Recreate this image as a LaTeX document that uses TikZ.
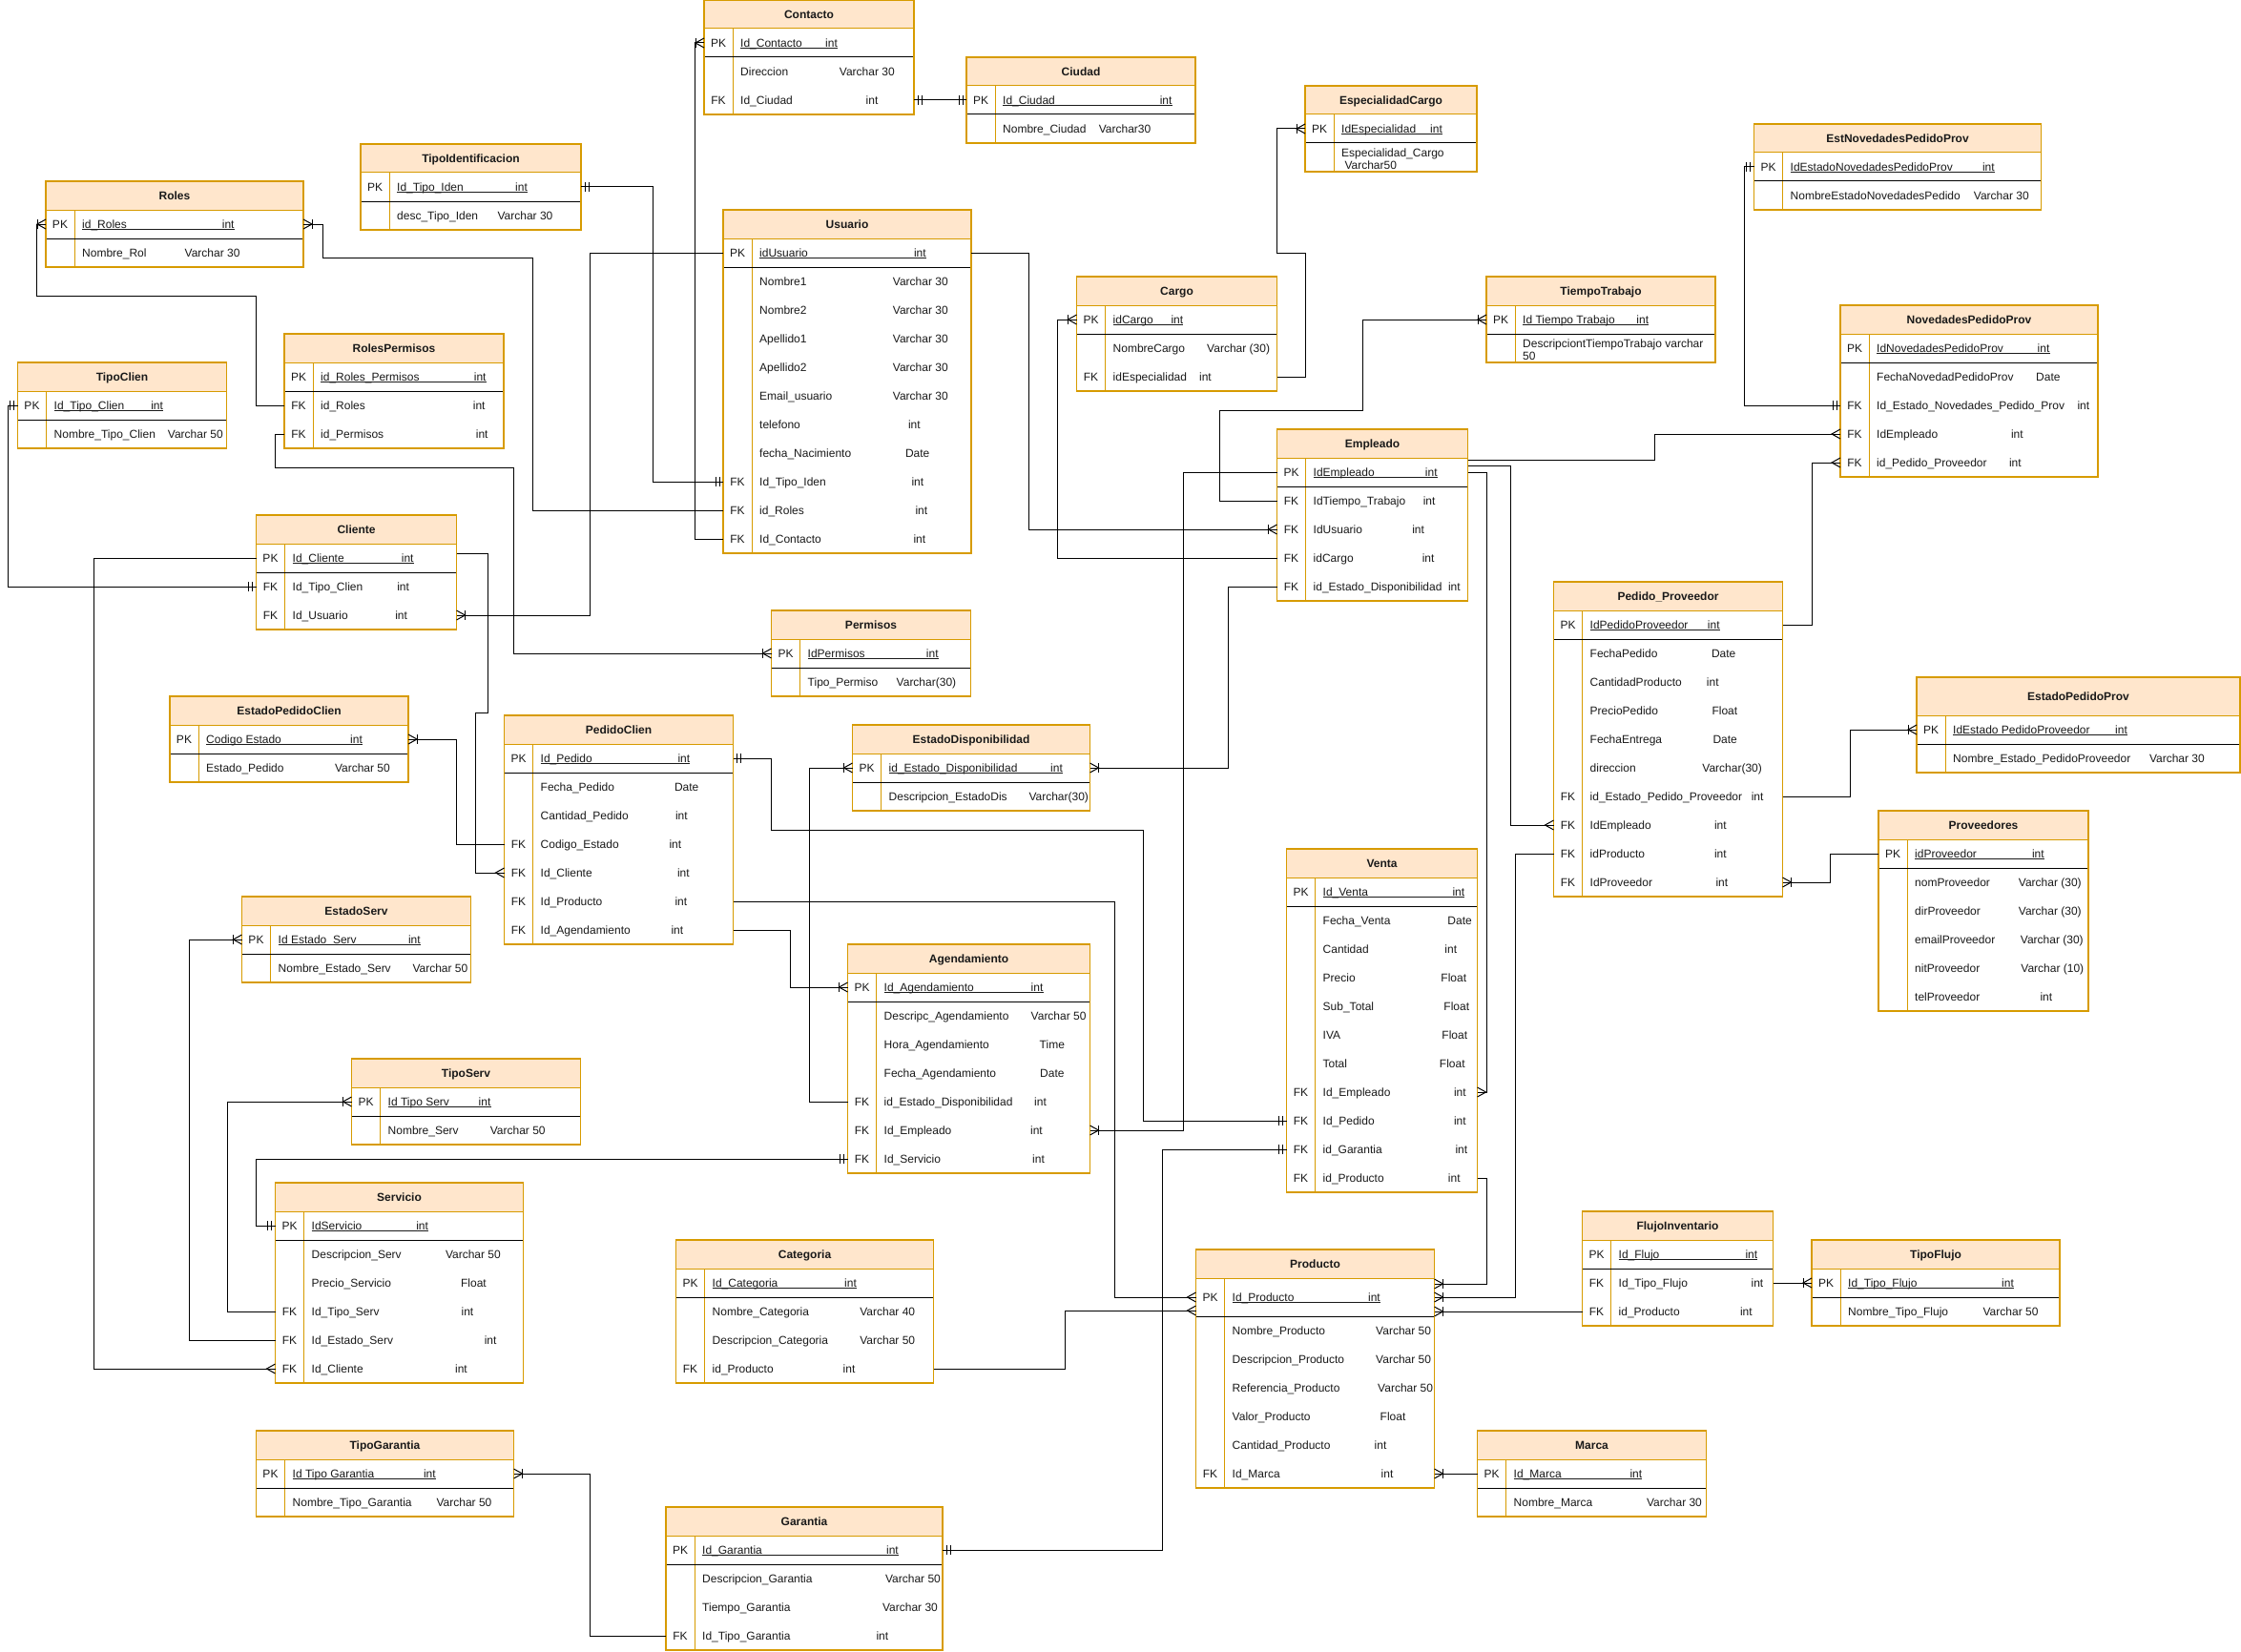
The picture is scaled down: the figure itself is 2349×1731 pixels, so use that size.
\documentclass[tikz,border=0pt]{standalone}
\usepackage{fontspec}
\setmainfont{Liberation Sans}
\definecolor{hdr}{HTML}{FFE6CC}
\definecolor{tabedge}{HTML}{D79B00}
\definecolor{txt}{HTML}{1A1A1A}
\newcommand\erfont{\fontsize{12}{14}\selectfont}

\tikzset{
  conn/.style={draw=black, line width=1pt},
  edgeline/.style={draw=tabedge, line width=1pt},
  pkline/.style={draw=black, line width=1pt},
  tabframe/.style={rectangle, draw=tabedge, line width=1.1pt, inner sep=0pt, outer sep=0pt},
  rowbox/.style={rectangle, inner sep=0pt, outer sep=0pt, minimum height=30pt},
  keytxt/.style={anchor=base, inner sep=0pt, font=\erfont, text=txt},
  fldtxt/.style={anchor=base west, inner sep=0pt, font=\erfont, text=txt},
  titletxt/.style={anchor=base, inner sep=0pt, font=\erfont\bfseries, text=txt},
  uline/.style={draw=txt, line width=0.9pt},
  % crow's foot markers, drawn for a line leaving the table towards +x
  erMany/.pic={\draw[conn] (0,-5) -- (9,0) -- (0,5);},
  erOtm/.pic={\draw[conn] (0,-5) -- (9,0) -- (0,5); \draw[conn] (9,-5) -- (9,5);},
  erOne/.pic={\draw[conn] (4,-5) -- (4,5) (8,-5) -- (8,5);},
}

% table frame: name, x, y, width, header height, key row height, total height, title
\newcommand\ertab[8]{%
  \fill[hdr] (#2,#3) rectangle ++(#4,#5);
  \draw[edgeline] (#2,#3+#5) -- ++(#4,0);
  \draw[edgeline] (#2+30,#3+#5) -- (#2+30,#3+#7);
  \draw[pkline] (#2,#3+#5+#6) -- ++(#4,0);
  \node[tabframe, minimum width=#4pt, minimum height=#7pt, anchor=north west] (#1) at (#2,#3) {};
  \node[titletxt] at (#2+#4/2,#3+#5/2+4.3) {#8};
}
% primary key row: name, x, y, width, height, field, offset of type
\newcommand\pkf[7]{%
  \node[rowbox, minimum width=#4pt, minimum height=#5pt, anchor=north west] (#1) at (#2,#3) {};
  \node[keytxt] at (#2+15,#3+#5/2+4.3) {PK};
  \node[fldtxt] (#1-f) at (#2+38,#3+#5/2+4.3) {#6};
  \node[fldtxt] (#1-t) at (#2+#7,#3+#5/2+4.3) {int};
  \draw[uline] ([yshift=-1.6pt]#1-f.base west) -- ([yshift=-1.6pt]#1-t.base east);
}
% ordinary row: name, x, y, width, key, field, offset of type, type
\newcommand\fld[8]{%
  \node[rowbox, minimum width=#4pt, anchor=north west] (#1) at (#2,#3) {};
  \node[keytxt] at (#2+15,#3+19.3) {#5};
  \node[fldtxt] at (#2+38,#3+19.3) {#6};
  \node[fldtxt] at (#2+#7,#3+19.3) {#8};
}

\begin{document}
\begin{tikzpicture}[x=1pt, y=-1pt]
\fill[white] (0,0) rectangle (2349,1731);
\useasboundingbox (0,0) rectangle (2349,1731);

% ---------------- tables ----------------
\ertab{contacto}{738}{0}{220}{30}{30}{120}{Contacto}
\pkf{contacto-pk}{738}{30}{220}{30}{Id\_Contacto}{127}
\fld{contacto-dir}{738}{60}{220}{}{Direccion}{141.7}{Varchar 30}
\fld{contacto-ciudad}{738}{90}{220}{FK}{Id\_Ciudad}{169.5}{int}

\ertab{ciudad}{1013}{60}{240}{30}{30}{90}{Ciudad}
\pkf{ciudad-pk}{1013}{90}{240}{30}{Id\_Ciudad}{202.6}
\fld{ciudad-nombre}{1013}{120}{240}{}{Nombre\_Ciudad}{138.6}{Varchar30}

\ertab{espcargo}{1368}{90}{180}{30}{30}{90}{EspecialidadCargo}
\pkf{espcargo-pk}{1368}{120}{180}{30}{IdEspecialidad}{131}
\node[rowbox, minimum width=180pt, anchor=north west] (espcargo-desc) at (1368,150) {};
\node[fldtxt] at (1406,164.3) {Especialidad\_Cargo};
\node[fldtxt] at (1409.3,177.6) {Varchar50};

\ertab{tipoiden}{378}{151}{231}{30}{30}{90}{TipoIdentificacion}
\pkf{tipoiden-pk}{378}{181}{231}{30}{Id\_Tipo\_Iden}{162}
\fld{tipoiden-desc}{378}{211}{231}{}{desc\_Tipo\_Iden}{143.4}{Varchar 30}

\ertab{roles}{48}{190}{270}{30}{30}{90}{Roles}
\pkf{roles-pk}{48}{220}{270}{30}{id\_Roles}{184.7}
\fld{roles-nombre}{48}{250}{270}{}{Nombre\_Rol}{145.5}{Varchar 30}

\ertab{rolesperm}{298}{350}{230}{30}{30}{120}{RolesPermisos}
\pkf{rolesperm-pk}{298}{380}{230}{30}{id\_Roles\_Permisos}{198.7}
\fld{rolesperm-roles}{298}{410}{230}{FK}{id\_Roles}{197.7}{int}
\fld{rolesperm-permisos}{298}{440}{230}{FK}{id\_Permisos}{200.7}{int}

\ertab{tipoclien}{18.5}{380}{219}{30}{30}{90}{TipoClien}
\pkf{tipoclien-pk}{18.5}{410}{219}{30}{Id\_Tipo\_Clien}{139.6}
\fld{tipoclien-nombre}{18.5}{440}{219}{}{Nombre\_Tipo\_Clien}{157.2}{Varchar 50}

\ertab{usuario}{758}{220}{260}{30}{30}{360}{Usuario}
\pkf{usuario-pk}{758}{250}{260}{30}{idUsuario}{199.8}
\fld{usuario-n1}{758}{280}{260}{}{Nombre1}{177.7}{Varchar 30}
\fld{usuario-n2}{758}{310}{260}{}{Nombre2}{177.7}{Varchar 30}
\fld{usuario-a1}{758}{340}{260}{}{Apellido1}{177.7}{Varchar 30}
\fld{usuario-a2}{758}{370}{260}{}{Apellido2}{177.7}{Varchar 30}
\fld{usuario-email}{758}{400}{260}{}{Email\_usuario}{177.7}{Varchar 30}
\fld{usuario-tel}{758}{430}{260}{}{telefono}{193.8}{int}
\fld{usuario-fecha}{758}{460}{260}{}{fecha\_Nacimiento}{190.8}{Date}
\fld{usuario-tipoiden}{758}{490}{260}{FK}{Id\_Tipo\_Iden}{197.3}{int}
\fld{usuario-roles}{758}{520}{260}{FK}{id\_Roles}{201.3}{int}
\fld{usuario-contacto}{758}{550}{260}{FK}{Id\_Contacto}{199.3}{int}

\ertab{cargo}{1128.5}{290}{210}{30}{30}{120}{Cargo}
\pkf{cargo-pk}{1128.5}{320}{210}{30}{idCargo}{98.8}
\fld{cargo-nombre}{1128.5}{350}{210}{}{NombreCargo}{136.5}{Varchar (30)}
\fld{cargo-esp}{1128.5}{380}{210}{FK}{idEspecialidad}{128.4}{int}

\ertab{tiempo}{1558}{290}{240}{30}{30}{90}{TiempoTrabajo}
\pkf{tiempo-pk}{1558}{320}{240}{30}{Id Tiempo Trabajo}{157.2}
\node[rowbox, minimum width=240pt, anchor=north west] (tiempo-desc) at (1558,350) {};
\node[fldtxt] at (1596,364.3) {DescripciontTiempoTrabajo varchar};
\node[fldtxt] at (1596,377.6) {50};

\ertab{estnov}{1838.5}{130}{301}{30}{30}{90}{EstNovedadesPedidoProv}
\pkf{estnov-pk}{1838.5}{160}{301}{30}{IdEstadoNovedadesPedidoProv}{239.3}
\fld{estnov-nombre}{1838.5}{190}{301}{}{NombreEstadoNovedadesPedido}{230.2}{Varchar 30}

\ertab{novedades}{1929}{320}{270}{30}{30}{180}{NovedadesPedidoProv}
\pkf{novedades-pk}{1929}{350}{270}{30}{IdNovedadesPedidoProv}{206.5}
\fld{novedades-fecha}{1929}{380}{270}{}{FechaNovedadPedidoProv}{205}{Date}
\fld{novedades-estado}{1929}{410}{270}{FK}{Id\_Estado\_Novedades\_Pedido\_Prov}{248.3}{int}
\fld{novedades-empleado}{1929}{440}{270}{FK}{IdEmpleado}{178.8}{int}
\fld{novedades-pedido}{1929}{470}{270}{FK}{id\_Pedido\_Proveedor}{176.8}{int}

\ertab{cliente}{268.5}{540}{210}{30}{30}{120}{Cliente}
\pkf{cliente-pk}{268.5}{570}{210}{30}{Id\_Cliente}{152.2}
\fld{cliente-tipoclien}{268.5}{600}{210}{FK}{Id\_Tipo\_Clien}{147.6}{int}
\fld{cliente-usuario}{268.5}{630}{210}{FK}{Id\_Usuario}{145.6}{int}

\ertab{permisos}{808.5}{640}{209}{30}{30}{90}{Permisos}
\pkf{permisos-pk}{808.5}{670}{209}{30}{IdPermisos}{162.2}
\fld{permisos-tipo}{808.5}{700}{209}{}{Tipo\_Permiso}{131}{Varchar(30)}

\ertab{empleado}{1338.5}{450}{200}{30}{30}{180}{Empleado}
\pkf{empleado-pk}{1338.5}{480}{200}{30}{IdEmpleado}{155.2}
\fld{empleado-tiempo}{1338.5}{510}{200}{FK}{IdTiempo\_Trabajo}{153.1}{int}
\fld{empleado-usuario}{1338.5}{540}{200}{FK}{IdUsuario}{141.6}{int}
\fld{empleado-cargo}{1338.5}{570}{200}{FK}{idCargo}{152.1}{int}
\fld{empleado-estdisp}{1338.5}{600}{200}{FK}{id\_Estado\_Disponibilidad}{179.3}{int}

\ertab{pedprov}{1628.5}{610}{240}{30}{30}{330}{Pedido\_Proveedor}
\pkf{pedprov-pk}{1628.5}{640}{240}{30}{IdPedidoProveedor}{161.2}
\fld{pedprov-fecha}{1628.5}{670}{240}{}{FechaPedido}{165.3}{Date}
\fld{pedprov-cant}{1628.5}{700}{240}{}{CantidadProducto}{160.2}{int}
\fld{pedprov-precio}{1628.5}{730}{240}{}{PrecioPedido}{165.8}{Float}
\fld{pedprov-entrega}{1628.5}{760}{240}{}{FechaEntrega}{166.8}{Date}
\fld{pedprov-dir}{1628.5}{790}{240}{}{direccion}{155.7}{Varchar(30)}
\fld{pedprov-estado}{1628.5}{820}{240}{FK}{id\_Estado\_Pedido\_Proveedor}{207.1}{int}
\fld{pedprov-empleado}{1628.5}{850}{240}{FK}{IdEmpleado}{168.3}{int}
\fld{pedprov-producto}{1628.5}{880}{240}{FK}{idProducto}{168.3}{int}
\fld{pedprov-proveedor}{1628.5}{910}{240}{FK}{IdProveedor}{169.8}{int}

\ertab{estpedclien}{178}{730}{250}{30}{30}{90}{EstadoPedidoClien}
\pkf{estpedclien-pk}{178}{760}{250}{30}{Codigo Estado}{189}
\fld{estpedclien-estado}{178}{790}{250}{}{Estado\_Pedido}{172.8}{Varchar 50}

\ertab{pedclien}{528.5}{750}{240}{30}{30}{240}{PedidoClien}
\pkf{pedclien-pk}{528.5}{780}{240}{30}{Id\_Pedido}{181.8}
\fld{pedclien-fecha}{528.5}{810}{240}{}{Fecha\_Pedido}{178.3}{Date}
\fld{pedclien-cant}{528.5}{840}{240}{}{Cantidad\_Pedido}{179.3}{int}
\fld{pedclien-estado}{528.5}{870}{240}{FK}{Codigo\_Estado}{172.8}{int}
\fld{pedclien-cliente}{528.5}{900}{240}{FK}{Id\_Cliente}{181.3}{int}
\fld{pedclien-producto}{528.5}{930}{240}{FK}{Id\_Producto}{178.8}{int}
\fld{pedclien-agenda}{528.5}{960}{240}{FK}{Id\_Agendamiento}{174.8}{int}

\ertab{estdisp}{893.5}{760}{249}{30}{30}{90}{EstadoDisponibilidad}
\pkf{estdisp-pk}{893.5}{790}{249}{30}{id\_Estado\_Disponibilidad}{207.5}
\fld{estdisp-desc}{893.5}{820}{249}{}{Descripcion\_EstadoDis}{184.8}{Varchar(30)}

\ertab{estpedprov}{2009}{710}{339}{40}{30}{100}{EstadoPedidoProv}
\pkf{estpedprov-pk}{2009}{750}{339}{30}{IdEstado PedidoProveedor}{208}
\fld{estpedprov-nombre}{2009}{780}{339}{}{Nombre\_Estado\_PedidoProveedor}{243.8}{Varchar 30}

\ertab{proveedores}{1969}{850}{220}{30}{30}{210}{Proveedores}
\pkf{proveedores-pk}{1969}{880}{220}{30}{idProveedor}{160.8}
\fld{proveedores-nom}{1969}{910}{220}{}{nomProveedor}{146.7}{Varchar (30)}
\fld{proveedores-dir}{1969}{940}{220}{}{dirProveedor}{146.7}{Varchar (30)}
\fld{proveedores-email}{1969}{970}{220}{}{emailProveedor}{148.7}{Varchar (30)}
\fld{proveedores-nit}{1969}{1000}{220}{}{nitProveedor}{149.2}{Varchar (10)}
\fld{proveedores-tel}{1969}{1030}{220}{}{telProveedor}{169.3}{int}

\ertab{estserv}{253.5}{940}{240}{30}{30}{90}{EstadoServ}
\pkf{estserv-pk}{253.5}{970}{240}{30}{Id Estado\ \ Serv}{174.3}
\fld{estserv-nombre}{253.5}{1000}{240}{}{Nombre\_Estado\_Serv}{178.8}{Varchar 50}

\ertab{agenda}{888.5}{990}{254}{30}{30}{240}{Agendamiento}
\pkf{agenda-pk}{888.5}{1020}{254}{30}{Id\_Agendamiento}{192}
\fld{agenda-desc}{888.5}{1050}{254}{}{Descripc\_Agendamiento}{192}{Varchar 50}
\fld{agenda-hora}{888.5}{1080}{254}{}{Hora\_Agendamiento}{201}{Time}
\fld{agenda-fecha}{888.5}{1110}{254}{}{Fecha\_Agendamiento}{201.5}{Date}
\fld{agenda-estdisp}{888.5}{1140}{254}{FK}{id\_Estado\_Disponibilidad}{195.5}{int}
\fld{agenda-empleado}{888.5}{1170}{254}{FK}{Id\_Empleado}{191.4}{int}
\fld{agenda-servicio}{888.5}{1200}{254}{FK}{Id\_Servicio}{193.5}{int}

\ertab{venta}{1348.5}{890}{200}{30}{30}{360}{Venta}
\pkf{venta-pk}{1348.5}{920}{200}{30}{Id\_Venta}{173.8}
\fld{venta-fecha}{1348.5}{950}{200}{}{Fecha\_Venta}{168.7}{Date}
\fld{venta-cant}{1348.5}{980}{200}{}{Cantidad}{165.7}{int}
\fld{venta-precio}{1348.5}{1010}{200}{}{Precio}{161.7}{Float}
\fld{venta-sub}{1348.5}{1040}{200}{}{Sub\_Total}{164.7}{Float}
\fld{venta-iva}{1348.5}{1070}{200}{}{IVA}{162.7}{Float}
\fld{venta-total}{1348.5}{1100}{200}{}{Total}{160.2}{Float}
\fld{venta-empleado}{1348.5}{1130}{200}{FK}{Id\_Empleado}{175.3}{int}
\fld{venta-pedido}{1348.5}{1160}{200}{FK}{Id\_Pedido}{175.3}{int}
\fld{venta-garantia}{1348.5}{1190}{200}{FK}{id\_Garantia}{176.8}{int}
\fld{venta-producto}{1348.5}{1220}{200}{FK}{id\_Producto}{169.2}{int}

\ertab{tiposerv}{368.5}{1110}{240}{30}{30}{90}{TipoServ}
\pkf{tiposerv-pk}{368.5}{1140}{240}{30}{Id Tipo Serv}{133}
\fld{tiposerv-nombre}{368.5}{1170}{240}{}{Nombre\_Serv}{145.1}{Varchar 50}

\ertab{servicio}{288.5}{1240}{260}{30}{30}{210}{Servicio}
\pkf{servicio-pk}{288.5}{1270}{260}{30}{IdServicio}{147.6}
\fld{servicio-desc}{288.5}{1300}{260}{}{Descripcion\_Serv}{178.3}{Varchar 50}
\fld{servicio-precio}{288.5}{1330}{260}{}{Precio\_Servicio}{194.4}{Float}
\fld{servicio-tipo}{288.5}{1360}{260}{FK}{Id\_Tipo\_Serv}{194.9}{int}
\fld{servicio-estado}{288.5}{1390}{260}{FK}{Id\_Estado\_Serv}{219.1}{int}
\fld{servicio-cliente}{288.5}{1420}{260}{FK}{Id\_Cliente}{188.4}{int}

\ertab{flujo}{1658.5}{1270}{200}{30}{30}{120}{FlujoInventario}
\pkf{flujo-pk}{1658.5}{1300}{200}{30}{Id\_Flujo}{170.8}
\fld{flujo-tipo}{1658.5}{1330}{200}{FK}{Id\_Tipo\_Flujo}{176.9}{int}
\fld{flujo-producto}{1658.5}{1360}{200}{FK}{id\_Producto}{165.3}{int}

\ertab{tipoflujo}{1899}{1300}{260}{30}{30}{90}{TipoFlujo}
\pkf{tipoflujo-pk}{1899}{1330}{260}{30}{Id\_Tipo\_Flujo}{199}
\fld{tipoflujo-nombre}{1899}{1360}{260}{}{Nombre\_Tipo\_Flujo}{179.4}{Varchar 50}

\ertab{categoria}{708.5}{1300}{270}{30}{30}{150}{Categoria}
\pkf{categoria-pk}{708.5}{1330}{270}{30}{Id\_Categoria}{176.5}
\fld{categoria-nombre}{708.5}{1360}{270}{}{Nombre\_Categoria}{192.6}{Varchar 40}
\fld{categoria-desc}{708.5}{1390}{270}{}{Descripcion\_Categoria}{192.6}{Varchar 50}
\fld{categoria-producto}{708.5}{1420}{270}{FK}{id\_Producto}{175}{int}

\ertab{producto}{1253.5}{1310}{250}{30}{40}{250}{Producto}
\pkf{producto-pk}{1253.5}{1340}{250}{40}{Id\_Producto}{180.4}
\fld{producto-nombre}{1253.5}{1380}{250}{}{Nombre\_Producto}{188.5}{Varchar 50}
\fld{producto-desc}{1253.5}{1410}{250}{}{Descripcion\_Producto}{188.5}{Varchar 50}
\fld{producto-ref}{1253.5}{1440}{250}{}{Referencia\_Producto}{190.5}{Varchar 50}
\fld{producto-valor}{1253.5}{1470}{250}{}{Valor\_Producto}{193}{Float}
\fld{producto-cant}{1253.5}{1500}{250}{}{Cantidad\_Producto}{187}{int}
\fld{producto-marca}{1253.5}{1530}{250}{FK}{Id\_Marca}{194}{int}

\ertab{marca}{1548.5}{1500}{240}{30}{30}{90}{Marca}
\pkf{marca-pk}{1548.5}{1530}{240}{30}{Id\_Marca}{159.8}
\fld{marca-nombre}{1548.5}{1560}{240}{}{Nombre\_Marca}{177.4}{Varchar 30}

\ertab{tipogar}{268.5}{1500}{270}{30}{30}{90}{TipoGarantia}
\pkf{tipogar-pk}{268.5}{1530}{270}{30}{Id Tipo Garantia}{175.3}
\fld{tipogar-nombre}{268.5}{1560}{270}{}{Nombre\_Tipo\_Garantia}{188.9}{Varchar 50}

\ertab{garantia}{698}{1580}{290}{30}{30}{150}{Garantia}
\pkf{garantia-pk}{698}{1610}{290}{30}{Id\_Garantia}{230.9}
\fld{garantia-desc}{698}{1640}{290}{}{Descripcion\_Garantia}{229.9}{Varchar 50}
\fld{garantia-tiempo}{698}{1670}{290}{}{Tiempo\_Garantia}{226.9}{Varchar 30}
\fld{garantia-tipo}{698}{1700}{290}{FK}{Id\_Tipo\_Garantia}{220.3}{int}

% ---------------- relationships ----------------
\draw[conn] (contacto-pk.west) -- ++(-10,0) |- (usuario-contacto.west);
\pic[xscale=-1] at (contacto-pk.west) {erOtm};

\draw[conn] (contacto-ciudad.east) -- (ciudad-pk.west);
\pic at (contacto-ciudad.east) {erOne};
\pic[xscale=-1] at (ciudad-pk.west) {erOne};

\draw[conn] (tipoiden-pk.east) -- ++(75,0) |- (usuario-tipoiden.west);
\pic at (tipoiden-pk.east) {erOne};
\pic[xscale=-1] at (usuario-tipoiden.west) {erOne};

\draw[conn] (roles-pk.east) -- ++(20,0) |- (558,270) |- (usuario-roles.west);
\pic at (roles-pk.east) {erOtm};

\draw[conn] (roles-pk.west) -- ++(-10,0) |- (268.5,310) |- (rolesperm-roles.west);
\pic[xscale=-1] at (roles-pk.west) {erOtm};

\draw[conn] (rolesperm-permisos.west) -- ++(-9.5,0) |- (538.5,490) |- (permisos-pk.west);
\pic[xscale=-1] at (permisos-pk.west) {erOtm};

\draw[conn] (tipoclien-pk.west) -- ++(-10,0) |- (cliente-tipoclien.west);
\pic[xscale=-1] at (tipoclien-pk.west) {erOne};
\pic[xscale=-1] at (cliente-tipoclien.west) {erOne};

\draw[conn] (usuario-pk.west) -- ++(-139.5,0) |- (cliente-usuario.east);
\pic at (cliente-usuario.east) {erOtm};

\draw[conn] (cliente-pk.west) -- ++(-170,0) |- (servicio-cliente.west);
\pic[xscale=-1] at (servicio-cliente.west) {erMany};

\draw[conn] ([yshift=5pt]cliente-pk.east) -- ++(33,0) |- (498,747) |- (pedclien-cliente.west);
\pic[xscale=-1] at (pedclien-cliente.west) {erMany};

\draw[conn] (estpedclien-pk.east) -- ++(50.5,0) |- (pedclien-estado.west);
\pic at (estpedclien-pk.east) {erOtm};

\draw[conn] (pedclien-pk.east) -- ++(40,0) |- (1198,870) |- (venta-pedido.west);
\pic at (pedclien-pk.east) {erOne};
\pic[xscale=-1] at (venta-pedido.west) {erOne};

\draw[conn] (pedclien-producto.east) -- ++(399.5,0) |- (producto-pk.west);
\pic[xscale=-1] at (producto-pk.west) {erMany};

\draw[conn] (pedclien-agenda.east) -- ++(60,0) |- (agenda-pk.west);
\pic[xscale=-1] at (agenda-pk.west) {erOtm};

\draw[conn] (agenda-estdisp.west) -- ++(-40,0) |- (estdisp-pk.west);
\pic[xscale=-1] at (estdisp-pk.west) {erOtm};

\draw[conn] (empleado-estdisp.west) -- ++(-51,0) |- (estdisp-pk.east);
\pic at (estdisp-pk.east) {erOtm};

\draw[conn] (empleado-pk.west) -- ++(-98,0) |- (agenda-empleado.east);
\pic at (agenda-empleado.east) {erOtm};

\draw[conn] (empleado-tiempo.west) -- ++(-60.5,0) |- (1428.5,430) |- (tiempo-pk.west);
\pic[xscale=-1] at (tiempo-pk.west) {erOtm};

\draw[conn] (empleado-usuario.west) -- ++(-260.5,0) |- (usuario-pk.east);
\pic[xscale=-1] at (empleado-usuario.west) {erOtm};

\draw[conn] (empleado-cargo.west) -- ++(-230,0) |- (cargo-pk.west);
\pic[xscale=-1] at (cargo-pk.west) {erOtm};

\draw[conn] (cargo-esp.east) -- ++(29.5,0) |- (1338.5,265.5) |- (espcargo-pk.west);
\pic[xscale=-1] at (espcargo-pk.west) {erOtm};

\draw[conn] ([yshift=12.5pt]empleado-pk.east) -- ++(195.5,0) |- (novedades-empleado.west);
\pic[xscale=-1] at (novedades-empleado.west) {erMany};
\draw[conn] ([yshift=6.5pt]empleado-pk.east) -- ++(45,0) |- (pedprov-empleado.west);
\pic[xscale=-1] at (pedprov-empleado.west) {erMany};
\draw[conn] (empleado-pk.east) -- ++(20,0) |- (venta-empleado.east);
\pic at (venta-empleado.east) {erMany};

\draw[conn] (novedades-estado.west) -- ++(-100.5,0) |- (estnov-pk.west);
\pic[xscale=-1] at (novedades-estado.west) {erOne};
\pic[xscale=-1] at (estnov-pk.west) {erOne};

\draw[conn] (novedades-pedido.west) -- ++(-30,0) |- (pedprov-pk.east);
\pic[xscale=-1] at (novedades-pedido.west) {erMany};

\draw[conn] (pedprov-estado.east) -- ++(70.5,0) |- (estpedprov-pk.west);
\pic[xscale=-1] at (estpedprov-pk.west) {erOtm};

\draw[conn] (pedprov-proveedor.east) -- ++(50,0) |- (proveedores-pk.west);
\pic at (pedprov-proveedor.east) {erOtm};

\draw[conn] (pedprov-producto.west) -- ++(-40,0) |- (producto-pk.east);
\pic at (producto-pk.east) {erOtm};

\draw[conn] (venta-producto.east) -- ++(10,0) |- ([yshift=14pt]producto-pk.east);
\pic at ([yshift=14pt]producto-pk.east) {erOtm};

\draw[conn] (flujo-producto.west) -- ([yshift=-15pt]producto-pk.east);
\pic at ([yshift=-15pt]producto-pk.east) {erOtm};

\draw[conn] (categoria-producto.east) -- ++(137.5,0) |- ([yshift=-14pt]producto-pk.west);
\pic[xscale=-1] at ([yshift=-14pt]producto-pk.west) {erMany};

\draw[conn] (venta-garantia.west) -- ++(-130,0) |- (garantia-pk.east);
\pic[xscale=-1] at (venta-garantia.west) {erOne};
\pic at (garantia-pk.east) {erOne};

\draw[conn] (garantia-tipo.west) -- ++(-79.5,0) |- (tipogar-pk.east);
\pic at (tipogar-pk.east) {erOtm};

\draw[conn] (flujo-tipo.east) -- (tipoflujo-pk.west);
\pic[xscale=-1] at (tipoflujo-pk.west) {erOtm};

\draw[conn] (producto-marca.east) -- (marca-pk.west);
\pic at (producto-marca.east) {erOtm};

\draw[conn] (servicio-pk.west) -- ++(-20,0) |- (agenda-servicio.west);
\pic[xscale=-1] at (servicio-pk.west) {erOne};
\pic[xscale=-1] at (agenda-servicio.west) {erOne};

\draw[conn] (servicio-tipo.west) -- ++(-50,0) |- (tiposerv-pk.west);
\pic[xscale=-1] at (tiposerv-pk.west) {erOtm};

\draw[conn] (servicio-estado.west) -- ++(-90,0) |- (estserv-pk.west);
\pic[xscale=-1] at (estserv-pk.west) {erOtm};
\end{tikzpicture}
\end{document}
